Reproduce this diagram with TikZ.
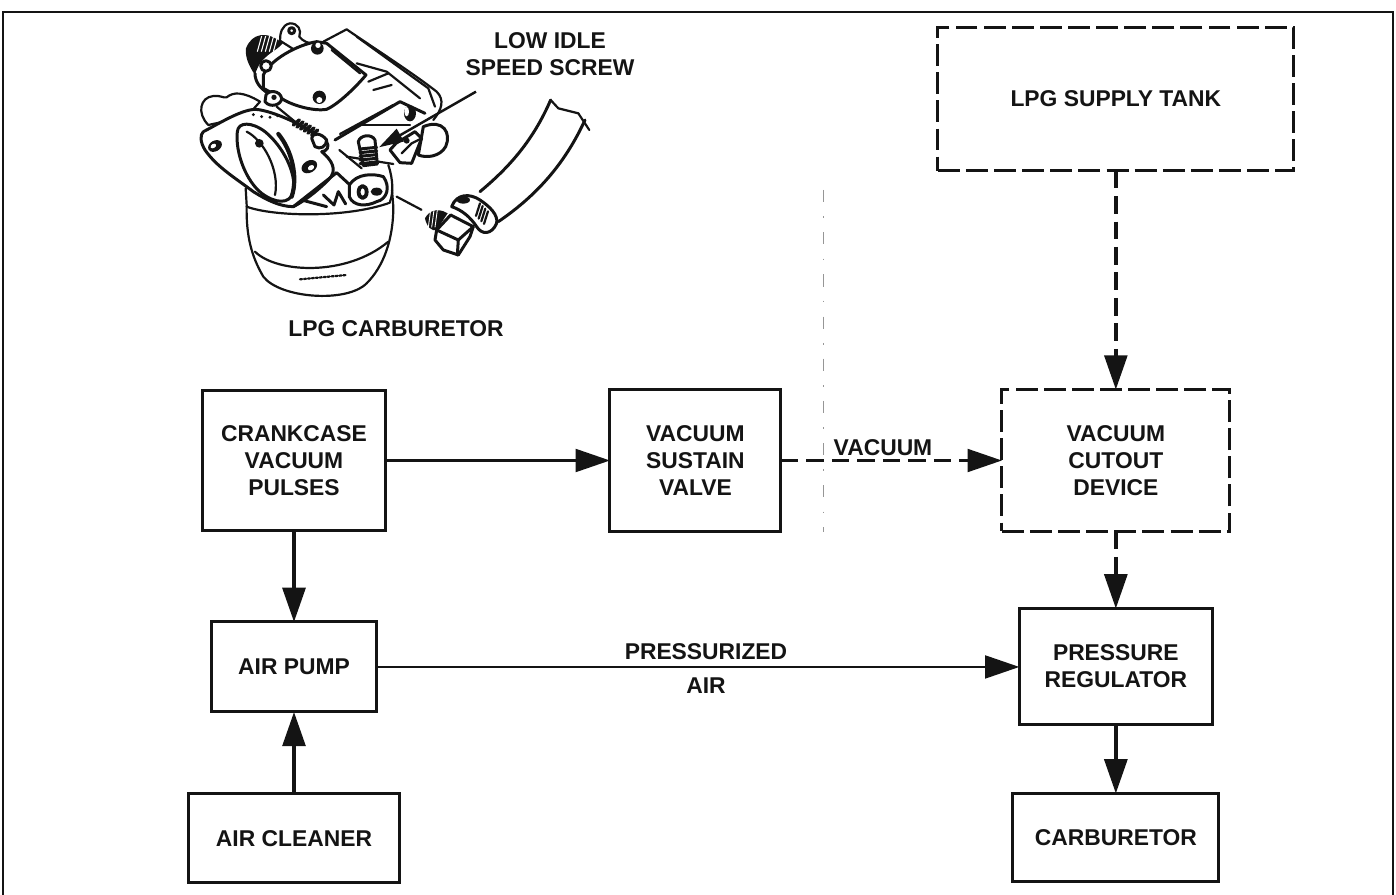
\documentclass[tikz,border=0pt]{standalone}
\usepackage{fontspec}
\setmainfont{Liberation Sans}
\usetikzlibrary{positioning,arrows.meta}
\definecolor{scanblack}{RGB}{20,20,20}
\definecolor{foldgray}{RGB}{150,150,150}

\begin{document}
\begin{tikzpicture}[
  x=0.02cm, y=-0.02cm,
  label/.style={font=\fontsize{13}{15.4}\selectfont\bfseries, align=center, text=scanblack, inner sep=0pt},
  block/.style={draw=scanblack, line width=1.7pt, label, outer sep=0pt},
  dashblock/.style={block, dash pattern=on 12.5pt off 3.5pt},
  arrow/.style={-{Triangle[length=19.5pt,width=13pt]}, line width=1.4pt, color=scanblack},
  thickarrow/.style={arrow, line width=2pt},
  dasharrow/.style={arrow, dash pattern=on 10pt off 4.5pt},
  sketch/.style={line width=1.25pt, color=scanblack, line join=round, line cap=round},
  heavy/.style={sketch, line width=1.7pt}
]
\useasboundingbox (0,0) rectangle (1396,895);
\draw[line width=1.5pt, color=scanblack] (3,895) -- (3,12) -- (1393,12) -- (1393,895);
\draw[foldgray, line width=0.5pt, dash pattern=on 7pt off 8pt on 1pt off 8pt] (823,190) -- (823,532);

\node[block, minimum width=3.68cm, minimum height=2.82cm] (crank) at (294,460.5) {CRANKCASE\\VACUUM\\PULSES};
\node[block, minimum width=3.42cm, minimum height=2.84cm, right=4.48cm of crank] (sustain) {VACUUM\\SUSTAIN\\VALVE};
\node[dashblock, minimum width=4.56cm, minimum height=2.84cm, right=4.42cm of sustain] (cutout) {VACUUM\\CUTOUT\\DEVICE};
\node[dashblock, minimum width=7.12cm, minimum height=2.86cm, above=4.38cm of cutout] (tank) {LPG SUPPLY TANK};
\node[block, minimum width=3.32cm, minimum height=1.80cm, below=1.82cm of crank] (pump) {AIR PUMP};
\node[block, minimum width=4.22cm, minimum height=1.78cm, below=1.64cm of pump] (cleaner) {AIR CLEANER};
\node[block, minimum width=3.86cm, minimum height=2.32cm, below=1.54cm of cutout] (regulator) {PRESSURE\\REGULATOR};
\node[block, minimum width=4.12cm, minimum height=1.76cm, below=1.38cm of regulator] (carb) {CARBURETOR};

\node[label] (vaclabel) at (883,448) {VACUUM};
\node[label] (airlabel) at (706,668.5) {PRESSURIZED\\[3.5pt]AIR};
\node[label] (carblabel) at (396,329) {LPG CARBURETOR};
\node[label] (screwlabel) at (550,54) {LOW IDLE\\SPEED SCREW};

\draw[arrow] (crank) -- (sustain);
\draw[dasharrow] (sustain) -- (cutout);
\draw[dasharrow, line width=1.9pt] (tank) -- (cutout);
\draw[thickarrow] (crank) -- (pump);
\draw[thickarrow] (cleaner) -- (pump);
\draw[arrow] (pump) -- (pump -| regulator.west);
\draw[dasharrow, line width=1.9pt] (cutout) -- (regulator);
\draw[thickarrow] (regulator) -- (carb);

% carburetor sketch
\begin{scope}[shift={(180,10)}, x=0.00667cm, y=-0.00667cm]
  % bowl
  \draw[sketch] (197,535) -- (200,585) .. controls (198,680) and (215,740) .. (250,800) .. controls (300,865) and (500,880) .. (560,820) .. controls (610,770) and (640,690) .. (640,590) -- (636,540);
  \draw[sketch] (225,725) .. controls (290,790) and (500,800) .. (625,695);
  \draw[sketch, densely dotted] (360,808) -- (500,795);
  % outer rim of the cover
  \fill[white] (430,95) -- (500,58) -- (770,245) -- (760,330) -- (640,470) -- (470,420) -- cycle;
  \draw[sketch] (430,95) -- (500,58) .. controls (560,100) and (700,190) .. (770,245) .. controls (795,270) and (785,300) .. (760,330);
  \draw[sketch] (530,80) -- (745,235) -- (765,290);
  \draw[sketch] (530,160) -- (620,185) -- (720,265);
  \draw[sketch] (565,215) -- (625,190);
  \draw[sketch] (580,240) -- (635,225);
  % body under the cover
  \draw[heavy] (465,390) -- (660,275) -- (735,310);
  \draw[sketch] (480,372) -- (640,285);
  \draw[sketch] (530,345) -- (690,345);
  \fill[scanblack] (690,310) ellipse (18 and 24);
  \fill[white] (680,305) ellipse (7 and 14);
  \draw[sketch] (500,440) -- (640,462);
  \draw[sketch] (478,420) -- (545,475);
  % left boss and ear
  \draw[sketch, fill=white] (85,345) .. controls (50,310) and (60,262) .. (100,258) .. controls (120,255) and (130,265) .. (140,262) .. controls (160,245) and (190,245) .. (240,275) -- (200,320) -- cycle;
  \draw[sketch, fill=white] (300,92) .. controls (300,70) and (305,45) .. (330,40) .. controls (355,40) and (365,60) .. (358,80) .. controls (370,95) and (385,100) .. (400,100) -- (360,130) -- cycle;
  \draw[heavy, fill=white] (335,62) circle (9);
  % top cover
  \draw[heavy, fill=white] (250,195) .. controls (270,150) and (350,105) .. (410,95) -- (440,100) -- (558,195) .. controls (520,240) and (470,285) .. (440,298) .. controls (400,305) and (330,285) .. (300,262) -- (250,235) -- cycle;
  \draw[sketch] (455,120) -- (540,190);
  % knurled screw at the top left
  \fill[scanblack] (198,115) .. controls (215,70) and (260,60) .. (308,100) .. controls (290,125) and (240,135) .. (225,195) .. controls (205,165) and (195,140) .. (198,115);
  \foreach \dx in {0,12,...,48} {
    \draw[white, line width=0.6pt] (245+\dx,78) -- (232+\dx,125);
  }
  \draw[heavy] (225,190) .. controls (225,215) and (240,235) .. (265,250);
  \draw[heavy, fill=white] (258,168) circle (16);
  \fill[scanblack] (412,115) circle (19);
  \fill[white] (414,106) circle (8);
  \fill[scanblack] (418,262) circle (20);
  \fill[white] (418,270) circle (9);
  % flange
  \draw[heavy, fill=white] (70,365) .. controls (110,345) and (180,300) .. (225,298) .. controls (280,300) and (400,360) .. (440,395) .. controls (450,410) and (440,425) .. (425,425) .. controls (455,450) and (475,480) .. (445,510) .. controls (410,545) and (370,575) .. (340,590) .. controls (300,590) and (260,570) .. (220,545) .. controls (160,500) and (110,470) .. (75,420) .. controls (60,395) and (60,375) .. (70,365);
  \draw[heavy, fill=white] (172,365) .. controls (175,335) and (215,335) .. (255,365) .. controls (310,410) and (350,490) .. (340,545) .. controls (330,585) and (285,580) .. (245,550) .. controls (200,515) and (165,430) .. (172,365);
  \draw[sketch] (200,365) .. controls (250,390) and (300,480) .. (285,555);
  \draw[heavy, line width=2.4pt] (295,372) .. controls (335,420) and (355,500) .. (335,560);
  \fill[scanblack, rotate around={30:(105,408)}] (105,408) ellipse (22 and 16);
  \fill[white, rotate around={30:(100,408)}] (100,408) ellipse (9 and 6);
  \fill[scanblack, rotate around={30:(388,470)}] (388,470) ellipse (25 and 18);
  \fill[white, rotate around={30:(393,473)}] (393,473) ellipse (10 and 7);
  \fill[scanblack] (238,400) circle (13);
  \fill[scanblack] (220,314) circle (5) (245,320) circle (5) (270,322) circle (5) (292,318) circle (4);
  % post and spring
  \draw[heavy, fill=white] (258,255) .. controls (265,240) and (300,240) .. (305,265) .. controls (305,285) and (270,295) .. (255,275) -- cycle;
  \fill[scanblack] (282,262) circle (8);
  \draw[sketch] (290,290) -- (345,335);
  \foreach \dx in {0,11,...,55} {
    \draw[heavy, line width=2pt] (340+\dx,345+0.55*\dx) -- (358+\dx,330+0.55*\dx);
  }
  \draw[heavy, fill=white] (395,385) .. controls (400,365) and (425,370) .. (440,390) .. controls (440,410) and (420,420) .. (405,410) -- cycle;
  % lever on the right
  \draw[heavy, fill=white] (730,350) .. controls (790,325) and (815,370) .. (797,410) .. controls (780,440) and (740,445) .. (715,435) -- cycle;
  \draw[heavy, fill=white] (648,400) -- (705,365) -- (725,385) -- (695,460) -- (660,458) -- (630,420) -- cycle;
  \draw[sketch] (665,430) -- (695,400) -- (725,385);
  \fill[scanblack] (680,392) circle (9);
  \draw[sketch] (625,465) .. controls (640,510) and (640,550) .. (630,575);
  \draw[sketch] (200,590) .. controls (280,620) and (500,625) .. (630,578);
  % idle mixture lever
  \draw[heavy] (340,590) -- (470,488) -- (510,525);
  \draw[heavy] (365,570) -- (440,590);
  \draw[heavy] (430,555) -- (462,585) -- (475,545) -- (497,582);
  \draw[heavy, fill=white] (508,525) .. controls (530,490) and (580,490) .. (610,500) .. controls (632,530) and (622,568) .. (590,575) .. controls (560,590) and (520,590) .. (508,560) -- cycle;
  \draw[heavy, line width=2.2pt, fill=white] (548,546) ellipse (12 and 18);
  \fill[scanblack] (590,545) ellipse (18 and 12);
  % idle screw and pointer
  \draw[heavy, fill=white] (535,395) .. controls (540,375) and (575,370) .. (585,390) -- (592,462) -- (550,467) -- cycle;
  \foreach \yy in {417,428,439,450,461} {
    \draw[heavy] (540,\yy) -- (590,\yy-5);
  }
  \coordinate (pointerstart) at (888,245);
  \coordinate (pointertip) at (597,412);
  \draw[-{Triangle[length=14pt,width=8pt]}, line width=1.4pt, color=scanblack] (pointerstart) -- (pointertip);
  % hose
  \draw[heavy] (1112,270) .. controls (1060,390) and (990,470) .. (900,545);
  \draw[heavy] (1215,330) .. controls (1160,450) and (1080,550) .. (955,635);
  \draw[sketch] (1112,270) -- (1135,295) -- (1195,310) -- (1228,360);
  % clamp
  \draw[heavy, fill=white] (815,590) .. controls (830,550) and (870,550) .. (900,570) .. controls (930,590) and (955,615) .. (950,640) .. controls (935,675) and (905,675) .. (890,650) .. controls (870,620) and (845,600) .. (815,590) -- cycle;
  \fill[scanblack] (850,570) ellipse (20 and 11);
  \foreach \dx in {0,8,...,24} {
    \draw[sketch] (900+\dx,580+\dx) -- (888+\dx,618+\dx);
  }
  % elbow fitting
  \draw[heavy, fill=white] (765,690) -- (770,660) -- (812,615) -- (880,650) -- (870,680) -- (835,735) -- (790,720) -- cycle;
  \draw[heavy] (770,660) -- (835,690) -- (880,650);
  \draw[heavy] (835,690) -- (832,735);
  \fill[scanblack] (735,625) .. controls (745,605) and (770,590) .. (803,610) -- (770,660) .. controls (755,665) and (740,650) .. (735,625);
  \foreach \dd in {0,10,20} {
    \draw[white, line width=0.5pt] (752+\dd,600) -- (745+\dd,652);
  }
  \coordinate (hosestart) at (650,560);
  \coordinate (hoseend) at (735,605);
  \draw[sketch, dash pattern=on 16pt off 5pt] (hosestart) -- (hoseend);
\end{scope}
\end{tikzpicture}
\end{document}
